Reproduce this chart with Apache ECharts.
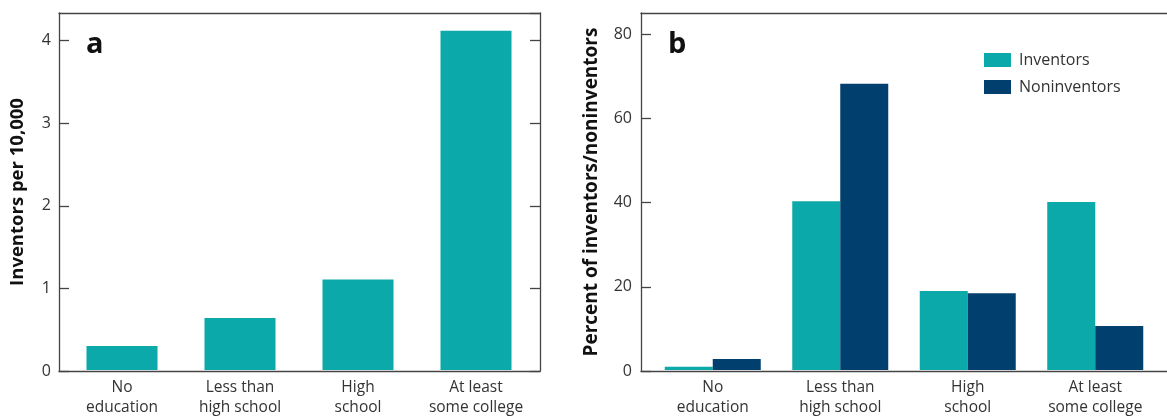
<!DOCTYPE html>
<html>
<head>
<meta charset="utf-8">
<script src="https://cdn.jsdelivr.net/npm/echarts@6/dist/echarts.min.js"></script>
<style>
html,body{margin:0;padding:0;background:#fff;}
#c{width:1167px;height:418px;}
</style>
</head>
<body>
<div id="c"></div>
<script>
const categories = ['No\neducation', 'Less than\nhigh school', 'High\nschool', 'At least\nsome college'];
const inventorsPer10k = [0.29, 0.63, 1.10, 4.12];
const pctInventors = [0.8, 40.2, 18.8, 40.0];
const pctNoninventors = [2.6, 68.2, 18.3, 10.5];
const ticksA = [0, 1, 2, 3, 4];
const ticksB = [0, 20, 40, 60, 80];

const TEAL = '#0ba9aa';
const NAVY = '#003f6e';
const LINE = '#444';
const FONT = 'Open Sans';

const chart = echarts.init(document.getElementById('c'), null, {renderer: 'canvas'});

const lineStyle = {color: LINE, width: 1.3};
const axLine = {show: true, onZero: false, lineStyle};
const tickLabel = {color: '#333', fontSize: 16, fontFamily: FONT};
const catLabel = {color: '#333', fontSize: 15.5, fontFamily: FONT, lineHeight: 20, margin: 8, interval: 0};
const frameX = (grid, pos) => ({gridIndex: grid, type: 'value', min: 0, max: 1, position: pos,
  axisLine: axLine, axisTick: {show: false}, axisLabel: {show: false}, splitLine: {show: false}});

const option = {
  animation: false,
  textStyle: {fontFamily: FONT},
  grid: [
    {left: 59, width: 481, top: 13, height: 358},
    {left: 63, width: 472, top: 13, height: 358},
    {left: 641, right: 0, top: 13, height: 358},
    {left: 649, width: 510, top: 13, height: 358}
  ],
  legend: {
    orient: 'vertical', left: 984, top: 52, padding: 0, itemWidth: 27, itemHeight: 14, itemGap: 11,
    icon: 'rect',
    textStyle: {color: '#333', fontSize: 16, fontFamily: FONT, padding: [0, 0, 0, 3]},
    data: ['Inventors', 'Noninventors']
  },
  xAxis: [
    frameX(0, 'bottom'),
    frameX(0, 'top'),
    {gridIndex: 1, type: 'category', data: categories, axisLine: {show: false}, axisTick: {show: false}, axisLabel: catLabel},
    frameX(2, 'bottom'),
    frameX(2, 'top'),
    {gridIndex: 3, type: 'category', data: categories, axisLine: {show: false}, axisTick: {show: false}, axisLabel: catLabel}
  ],
  yAxis: [
    {gridIndex: 0, type: 'value', min: 0, max: 4.335, interval: 1, position: 'left',
      name: 'Inventors per 10,000', nameLocation: 'middle', nameGap: 32, nameRotate: 90,
      nameTextStyle: {fontSize: 18.5, fontWeight: 'bold', color: '#111', fontFamily: FONT},
      axisLine: axLine, axisTick: {show: true, inside: true, length: 10, lineStyle},
      axisLabel: {...tickLabel, margin: 8, showMaxLabel: false}, splitLine: {show: false}},
    {gridIndex: 0, type: 'value', min: 0, max: 4.335, interval: 1, position: 'right',
      axisLine: axLine, axisTick: {show: true, inside: true, length: 10, lineStyle},
      axisLabel: {show: false}, splitLine: {show: false}},
    {gridIndex: 1, type: 'value', min: 0, max: 4.335, show: false},
    {gridIndex: 2, type: 'value', min: 0, max: 85.05, interval: 20, position: 'left',
      name: 'Percent of inventors/noninventors', nameLocation: 'middle', nameGap: 40, nameRotate: 90,
      nameTextStyle: {fontSize: 19, fontWeight: 'bold', color: '#111', fontFamily: FONT},
      axisLine: axLine, axisTick: {show: true, inside: true, length: 10, lineStyle},
      axisLabel: {...tickLabel, margin: 9, showMaxLabel: false}, splitLine: {show: false}},
    {gridIndex: 3, type: 'value', min: 0, max: 85.05, show: false}
  ],
  graphic: [
    {type: 'text', left: 86, top: 30, style: {text: 'a', fontSize: 29, fontWeight: 'bold', fill: '#111', fontFamily: FONT}},
    {type: 'text', left: 668, top: 30, style: {text: 'b', fontSize: 29, fontWeight: 'bold', fill: '#111', fontFamily: FONT}}
  ],
  series: [
    {name: 'Inventors per 10,000', type: 'bar', xAxisIndex: 2, yAxisIndex: 2, data: inventorsPer10k, barWidth: 71, itemStyle: {color: TEAL}},
    {name: 'Inventors', type: 'bar', xAxisIndex: 5, yAxisIndex: 4, data: pctInventors, barWidth: 48, barGap: '0%', itemStyle: {color: TEAL}},
    {name: 'Noninventors', type: 'bar', xAxisIndex: 5, yAxisIndex: 4, data: pctNoninventors, barWidth: 48, barGap: '0%', itemStyle: {color: NAVY}}
  ]
};
chart.setOption(option);
</script>
</body>
</html>
